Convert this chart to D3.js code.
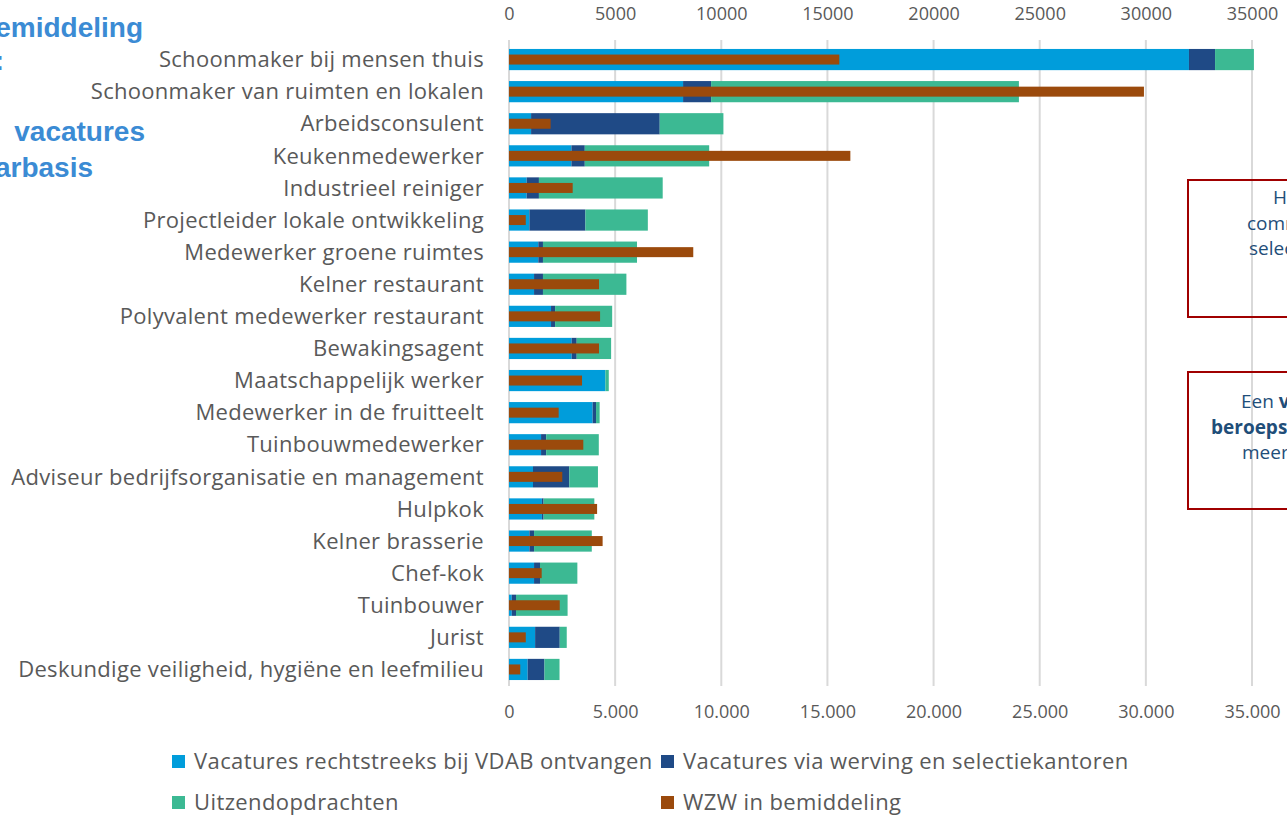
<!DOCTYPE html>
<html>
<head>
<meta charset="utf-8">
<script src="https://cdn.jsdelivr.net/npm/d3@7"></script>
<style>
  body { margin: 0; background: #fff; }
  svg { display: block; }
</style>
</head>
<body>
<svg id="chart"></svg>
<script>
// Data
const categories = [
  'Schoonmaker bij mensen thuis',
  'Schoonmaker van ruimten en lokalen',
  'Arbeidsconsulent',
  'Keukenmedewerker',
  'Industrieel reiniger',
  'Projectleider lokale ontwikkeling',
  'Medewerker groene ruimtes',
  'Kelner restaurant',
  'Polyvalent medewerker restaurant',
  'Bewakingsagent',
  'Maatschappelijk werker',
  'Medewerker in de fruitteelt',
  'Tuinbouwmedewerker',
  'Adviseur bedrijfsorganisatie en management',
  'Hulpkok',
  'Kelner brasserie',
  'Chef-kok',
  'Tuinbouwer',
  'Jurist',
  'Deskundige veiligheid, hygiëne en leefmilieu'
];
const vdab     = [32030, 8200, 1040, 2940, 830, 960, 1380, 1180, 1980, 2950, 4540, 3940, 1510, 1130, 1550, 960, 1180, 130, 1230, 880];
const werving  = [1230, 1320, 6060, 630, 580, 2640, 220, 420, 190, 240, 0, 160, 240, 1710, 80, 220, 280, 200, 1160, 790];
const uitzend  = [1830, 14500, 3000, 5860, 5830, 2940, 4430, 3930, 2690, 1620, 160, 170, 2480, 1350, 2390, 2720, 1760, 2430, 330, 710];
const wzw      = [15560, 29910, 1960, 16080, 3000, 790, 8680, 4240, 4290, 4240, 3440, 2340, 3500, 2510, 4150, 4410, 1540, 2390, 790, 530];

const seriesNames = [
  'Vacatures rechtstreeks bij VDAB ontvangen',
  'Vacatures via werving en selectiekantoren',
  'Uitzendopdrachten',
  'WZW in bemiddeling'
];
const seriesColors = ['#009ddb', '#1f4a86', '#3cb993', '#9b4a0c'];
const tickValues = [0, 5000, 10000, 15000, 20000, 25000, 30000, 35000];

// Set size
const width = 1287;
const height = 815;
const labelFont = '"Open Sans", Lato, sans-serif';

const svg = d3.select('#chart')
  .attr('width', width)
  .attr('height', height);

// Scales
const x = d3.scaleLinear().domain([0, 35000]).range([509, 1252]);
const y = d3.scaleBand().domain(categories).range([43.5, 685.5]).paddingInner(0.34).paddingOuter(0.17);

// Gridlines
svg.append('g')
  .selectAll('line')
  .data(tickValues)
  .enter()
  .append('line')
  .attr('x1', d => x(d)).attr('x2', d => x(d))
  .attr('y1', 40).attr('y2', 686)
  .attr('stroke', '#d9d9d9')
  .attr('stroke-width', 2);

// Top axis (plain numbers)
const topAxis = svg.append('g')
  .attr('transform', 'translate(0,23)')
  .call(d3.axisTop(x).tickValues(tickValues).tickSize(0).tickFormat(d3.format('d')));
topAxis.select('.domain').remove();
topAxis.selectAll('text')
  .attr('fill', '#595959')
  .style('font-family', labelFont)
  .style('font-size', '18px');

// Bottom axis (dotted thousands)
const nlFormat = d3.formatLocale({ decimal: ',', thousands: '.', grouping: [3], currency: ['€', ''] }).format(',d');
const bottomAxis = svg.append('g')
  .attr('transform', 'translate(0,702)')
  .call(d3.axisBottom(x).tickValues(tickValues).tickSize(0).tickFormat(nlFormat));
bottomAxis.select('.domain').remove();
bottomAxis.selectAll('text')
  .attr('fill', '#595959')
  .style('font-family', labelFont)
  .style('font-size', '18px');

// Stack the three vacancy series
const rows = categories.map((c, i) => ({ cat: c, vdab: vdab[i], werving: werving[i], uitzend: uitzend[i], wzw: wzw[i] }));
const stack = d3.stack().keys(['vdab', 'werving', 'uitzend']);
const stacked = stack(rows);

svg.append('g')
  .selectAll('g')
  .data(stacked)
  .enter()
  .append('g')
  .attr('fill', (d, i) => seriesColors[i])
  .selectAll('rect')
  .data(d => d)
  .enter()
  .append('rect')
  .attr('x', d => x(d[0]))
  .attr('width', d => x(d[1]) - x(d[0]))
  .attr('y', d => y(d.data.cat))
  .attr('height', y.bandwidth());

// WZW overlay bars (thin, centred)
const thin = 10;
svg.append('g')
  .selectAll('rect')
  .data(rows)
  .enter()
  .append('rect')
  .attr('fill', seriesColors[3])
  .attr('x', x(0))
  .attr('width', d => x(d.wzw) - x(0))
  .attr('y', d => y(d.cat) + y.bandwidth() / 2 - thin / 2)
  .attr('height', thin);

// Category labels
svg.append('g')
  .selectAll('text')
  .data(categories)
  .enter()
  .append('text')
  .attr('x', 484)
  .attr('y', d => y(d) + y.bandwidth() / 2)
  .attr('dy', '0.35em')
  .attr('text-anchor', 'end')
  .attr('fill', '#595959')
  .style('font-family', labelFont)
  .style('font-size', '22px')
  .style('letter-spacing', '0.3px')
  .text(d => d);

// Legend
const legendItems = [
  { name: seriesNames[0], color: seriesColors[0], lx: 172, ly: 761 },
  { name: seriesNames[1], color: seriesColors[1], lx: 661, ly: 761 },
  { name: seriesNames[2], color: seriesColors[2], lx: 172, ly: 802 },
  { name: seriesNames[3], color: seriesColors[3], lx: 661, ly: 802 }
];
const legend = svg.append('g')
  .selectAll('g')
  .data(legendItems)
  .enter()
  .append('g')
  .attr('transform', d => `translate(${d.lx},${d.ly})`);
legend.append('rect')
  .attr('x', 0).attr('y', -6)
  .attr('width', 13).attr('height', 13)
  .attr('fill', d => d.color);
legend.append('text')
  .attr('x', 22)
  .attr('dy', '0.35em')
  .attr('fill', '#595959')
  .style('font-family', labelFont)
  .style('font-size', '22px')
  .style('letter-spacing', '0.4px')
  .text(d => d.name);

// Slide title fragments cut off at the left edge
const titleLines = [
  { t: 'bemiddeling', x: 143, y: 37 },
  { t: 'versus:', x: 4, y: 70 },
  { t: 'ontvangen', x: -2, y: 141 },
  { t: 'vacatures', x: 145, y: 141 },
  { t: 'op jaarbasis', x: 93, y: 177 }
];
svg.append('g')
  .selectAll('text')
  .data(titleLines)
  .enter()
  .append('text')
  .attr('x', d => d.x)
  .attr('y', d => d.y)
  .attr('text-anchor', 'end')
  .attr('fill', '#3b8bd4')
  .style('font-family', '"Liberation Sans", Arial, sans-serif')
  .style('font-weight', 'bold')
  .style('font-size', '28px')
  .text(d => d.t);

// Annotation boxes on the right (mostly outside the frame)
const boxes = [
  { y0: 180, y1: 317, lines: [
    { x: 1273, y: 204, parts: [{ s: 'Het aandeel vacatures via', b: false }] },
    { x: 1247, y: 230, parts: [{ s: 'commerciële wervings- en', b: false }] },
    { x: 1249, y: 255, parts: [{ s: 'selectiekantoren', b: false }] }
  ] },
  { y0: 372, y1: 509, lines: [
    { x: 1241, y: 408, parts: [{ s: 'Een ', b: false }, { s: 'vacature', b: true }] },
    { x: 1211, y: 434, parts: [{ s: 'beroepsspecifiek', b: true }] },
    { x: 1242, y: 459, parts: [{ s: 'meer', b: false }] }
  ] }
];
const boxG = svg.append('g')
  .selectAll('g')
  .data(boxes)
  .enter()
  .append('g');
boxG.append('rect')
  .attr('x', 1188)
  .attr('y', d => d.y0)
  .attr('width', 200)
  .attr('height', d => d.y1 - d.y0)
  .attr('fill', 'none')
  .attr('stroke', '#a00000')
  .attr('stroke-width', 2);
boxG.selectAll('text')
  .data(d => d.lines)
  .enter()
  .append('text')
  .attr('x', d => d.x)
  .attr('y', d => d.y)
  .attr('fill', '#1f4e79')
  .style('font-family', labelFont)
  .style('font-size', '19px')
  .selectAll('tspan')
  .data(d => d.parts)
  .enter()
  .append('tspan')
  .style('font-weight', d => d.b ? 'bold' : 'normal')
  .text(d => d.s);
</script>
</body>
</html>
